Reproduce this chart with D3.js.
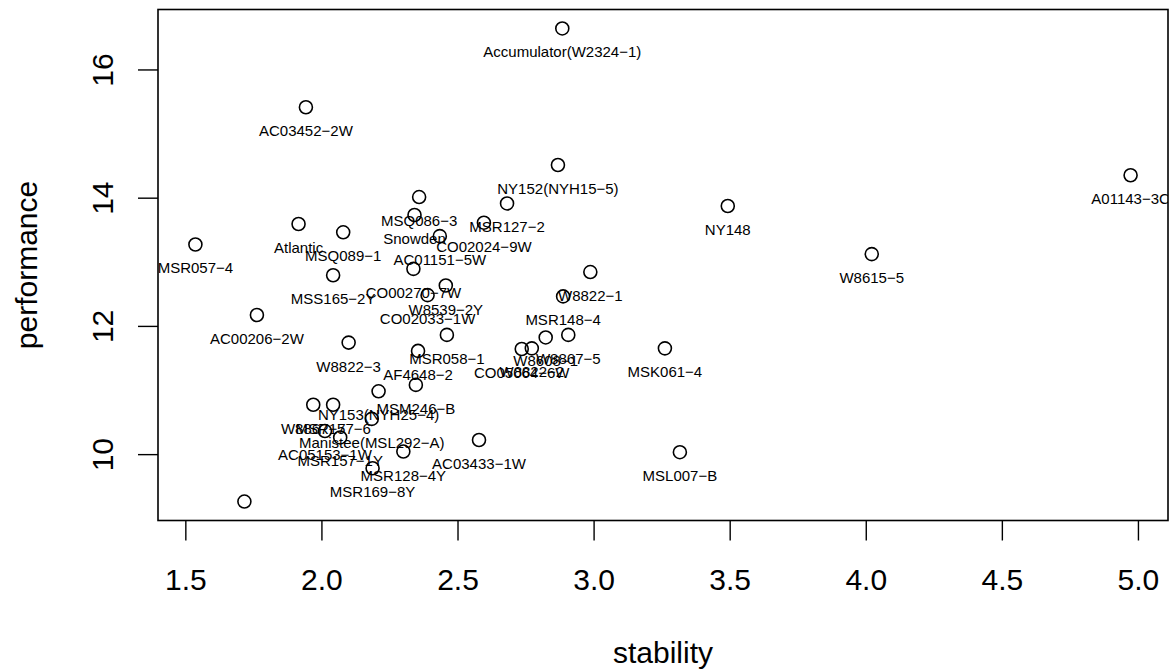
<!DOCTYPE html>
<html>
<head>
<meta charset="utf-8">
<script src="https://cdn.jsdelivr.net/npm/d3@7"></script>
<style>
  html, body { margin: 0; padding: 0; background: #fff; }
  svg { display: block; }
  text { font-family: "Liberation Sans", Arial, Helvetica, sans-serif; fill: #000; }
</style>
</head>
<body>
<svg id="chart" width="1170" height="672"></svg>
<script>
// ---- data ----
const names = [
  "Accumulator(W2324-1)", "AC03452-2W", "NY152(NYH15-5)", "A01143-3C", "NY148",
  "W8615-5", "MSQ086-3", "MSR127-2", "Snowden", "CO02024-9W",
  "AC01151-5W", "Atlantic", "MSQ089-1", "MSR057-4", "MSS165-2Y",
  "CO00270-7W", "W8539-2Y", "W8822-1", "MSR148-4", "CO02033-1W",
  "AC00206-2W", "W8822-3", "MSR058-1", "AF4648-2", "MSM246-B",
  "W8608-1", "W8867-5", "CO05064-6W", "W8822-2", "MSK061-4",
  "NY153(NYH25-4)", "W8867-7", "MSR157-6", "Manistee(MSL292-A)", "AC05153-1W",
  "MSR157-1Y", "MSR128-4Y", "MSR169-8Y", "CO05001-6B", "AC03433-1W",
  "MSL007-B"
];
const stability = [
  2.885, 1.943, 2.869, 4.973, 3.493,
  4.022, 2.359, 2.682, 2.342, 2.597,
  2.435, 1.916, 2.080, 1.537, 2.043,
  2.338, 2.457, 2.988, 2.888, 2.390,
  1.763, 2.100, 2.461, 2.355, 2.347,
  2.824, 2.907, 2.736, 2.773, 3.262,
  2.210, 1.970, 2.043, 2.185, 2.013,
  2.069, 2.301, 2.188, 1.717, 2.579,
  3.317
];
const performance = [
  16.64, 15.41, 14.51, 14.35, 13.87,
  13.12, 14.01, 13.91, 13.73, 13.61,
  13.40, 13.59, 13.46, 13.27, 12.79,
  12.89, 12.63, 12.84, 12.46, 12.48,
  12.17, 11.74, 11.86, 11.61, 11.08,
  11.82, 11.86, 11.64, 11.65, 11.65,
  10.98, 10.77, 10.77, 10.55, 10.36,
  10.26, 10.04, 9.78, 9.26, 10.22,
  10.03
];
const xTicks = [1.5, 2.0, 2.5, 3.0, 3.5, 4.0, 4.5, 5.0];
const yTicks = [10, 12, 14, 16];
const xTitle = "stability";
const yTitle = "performance";

// ---- layout ----
const box = { left: 158, right: 1168, top: 9.5, bottom: 520.5 };
const svg = d3.select("#chart");

function padded(arr) {
  const [a, b] = d3.extent(arr);
  const p = (b - a) * 0.04;
  return [a - p, b + p];
}
const x = d3.scaleLinear().domain(padded(stability)).range([box.left, box.right]);
const y = d3.scaleLinear().domain(padded(performance)).range([box.bottom, box.top]);

const pts = names.map((n, i) => ({ name: n, sx: stability[i], py: performance[i] }));

// clip to plot region
svg.append("defs").append("clipPath").attr("id", "plotclip")
  .append("rect")
  .attr("x", box.left).attr("y", box.top)
  .attr("width", box.right - box.left).attr("height", box.bottom - box.top);

const plot = svg.append("g").attr("clip-path", "url(#plotclip)");

plot.selectAll("circle").data(pts).enter().append("circle")
  .attr("cx", d => x(d.sx))
  .attr("cy", d => y(d.py))
  .attr("r", 6.5)
  .attr("fill", "none")
  .attr("stroke", "#000")
  .attr("stroke-width", 1.6);

plot.selectAll("text.lab").data(pts).enter().append("text")
  .attr("class", "lab")
  .attr("x", d => x(d.sx))
  .attr("y", d => y(d.py) + 29)
  .attr("text-anchor", "middle")
  .style("font-size", "15px")
  .text(d => d.name.replace(/-/g, "\u2212"));

// axes
const xAxis = d3.axisBottom(x).tickValues(xTicks).tickFormat(d3.format(".1f"))
  .tickSizeInner(20).tickSizeOuter(0).tickPadding(0);
const gx = svg.append("g").attr("transform", `translate(0,${box.bottom})`).call(xAxis);
gx.select(".domain").remove();
gx.selectAll(".tick line").attr("stroke", "#000").attr("stroke-width", 1.4);
gx.selectAll(".tick text")
  .attr("y", 69.5).attr("dy", null)
  .style("font-size", "30px").style("font-family", "Liberation Sans, Arial, sans-serif")
  .attr("fill", "#000");

const yAxis = d3.axisLeft(y).tickValues(yTicks).tickFormat(d3.format("d"))
  .tickSizeInner(20).tickSizeOuter(0).tickPadding(0);
const gy = svg.append("g").attr("transform", `translate(${box.left},0)`).call(yAxis);
gy.select(".domain").remove();
gy.selectAll(".tick line").attr("stroke", "#000").attr("stroke-width", 1.4);
gy.selectAll(".tick text")
  .attr("x", null).attr("dy", null)
  .attr("transform", "translate(-45,0) rotate(-90)")
  .attr("text-anchor", "middle")
  .style("font-size", "30px").style("font-family", "Liberation Sans, Arial, sans-serif")
  .attr("fill", "#000");

// box
svg.append("rect")
  .attr("x", box.left).attr("y", box.top)
  .attr("width", box.right - box.left).attr("height", box.bottom - box.top)
  .attr("fill", "none").attr("stroke", "#000").attr("stroke-width", 1.6);

// titles
svg.append("text")
  .attr("x", (box.left + box.right) / 2)
  .attr("y", 663)
  .attr("text-anchor", "middle")
  .style("font-size", "30px")
  .text(xTitle);

svg.append("text")
  .attr("transform", `translate(37,${(box.top + box.bottom) / 2}) rotate(-90)`)
  .attr("text-anchor", "middle")
  .style("font-size", "30px")
  .text(yTitle);
</script>
</body>
</html>
